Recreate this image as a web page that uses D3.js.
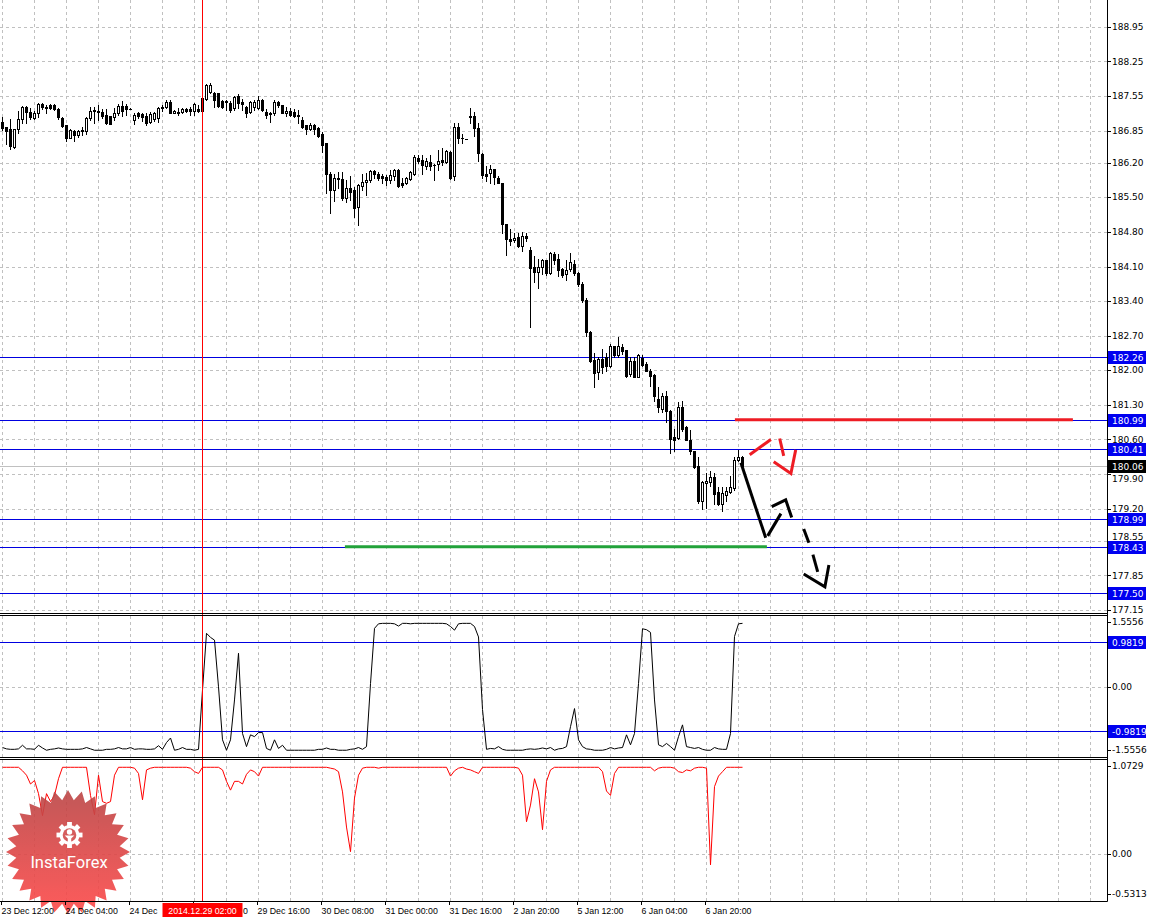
<!DOCTYPE html>
<html><head><meta charset="utf-8">
<script src="https://cdn.jsdelivr.net/npm/d3@7"></script>
<style>body{margin:0;background:#fff}svg{display:block}</style>
</head><body><svg id="c" width="1149" height="919"></svg>
<script>
// ---------- DATA ----------
const open = [187.03,186.93,186.88,186.52,186.88,187.08,187.33,187.23,187.11,187.21,187.39,187.33,187.36,187.37,187.28,187.10,186.96,186.71,186.85,186.76,
186.86,186.85,187.10,187.27,187.25,187.23,187.17,187.15,187.13,187.20,187.35,187.35,187.29,187.07,187.20,187.19,187.15,187.03,187.08,187.10,
187.33,187.32,187.43,187.21,187.23,187.23,187.28,187.28,187.25,187.28,187.25,187.48,187.64,187.62,187.62,187.44,187.44,187.40,187.30,187.54,
187.42,187.33,187.23,187.32,187.30,187.47,187.23,187.20,187.20,187.42,187.37,187.21,187.25,187.23,187.17,187.07,186.96,186.88,186.96,186.90,
186.79,186.60,185.97,185.65,185.90,185.88,185.48,185.69,185.65,185.31,185.72,185.81,185.85,186.03,185.97,185.93,185.92,185.85,185.93,186.06,
185.78,185.78,185.88,185.98,186.29,186.25,186.13,186.22,186.15,186.17,186.25,186.22,186.42,185.93,186.92,186.71,186.67,187.15,187.15,186.90,
186.38,185.98,186.00,186.07,185.90,185.78,184.96,184.65,184.63,184.70,184.51,184.71,184.43,184.09,183.99,184.08,184.23,183.97,184.35,184.26,
184.04,183.94,184.04,184.16,183.97,183.74,183.43,182.77,182.21,181.96,182.23,182.27,182.08,182.50,182.30,182.48,182.41,181.92,182.19,181.87,
182.25,182.13,181.99,181.91,181.42,181.22,181.47,181.18,180.66,180.63,181.25,180.86,180.59,180.37,180.07,179.36,179.71,179.73,179.85,179.53,
179.29,179.48,179.53,179.62,180.19,180.25];
const high = [187.12,186.93,187.08,186.88,187.25,187.35,187.35,187.30,187.25,187.40,187.40,187.36,187.39,187.39,187.30,187.13,186.96,186.88,186.86,186.86,
186.93,187.13,187.33,187.32,187.37,187.28,187.28,187.15,187.30,187.39,187.44,187.39,187.30,187.20,187.23,187.20,187.20,187.23,187.23,187.33,
187.36,187.46,187.46,187.27,187.30,187.31,187.30,187.32,187.40,187.37,187.50,187.79,187.81,187.64,187.62,187.46,187.47,187.44,187.54,187.59,
187.48,187.35,187.44,187.47,187.54,187.48,187.28,187.23,187.46,187.44,187.37,187.33,187.30,187.28,187.27,187.13,186.96,187.00,186.98,186.92,
186.83,186.60,186.02,185.98,186.02,186.02,185.85,185.93,185.71,185.77,185.97,186.00,186.05,186.05,186.02,185.98,185.95,186.05,186.08,186.08,
185.90,185.92,186.04,186.35,186.35,186.35,186.29,186.35,186.17,186.46,186.49,186.46,186.44,187.01,187.00,186.79,186.67,187.30,187.23,187.01,
186.39,186.13,186.15,186.08,185.93,185.78,184.97,184.85,184.78,184.78,184.80,184.78,184.50,184.31,184.26,184.26,184.23,184.39,184.39,184.35,
184.06,184.23,184.37,184.24,183.99,183.79,183.47,182.79,182.35,182.27,182.43,182.35,182.54,182.50,182.68,182.54,182.41,182.27,182.27,182.32,
182.30,182.16,182.03,181.93,181.66,181.55,181.59,181.20,180.81,181.35,181.37,180.88,180.79,180.37,180.24,179.76,179.93,179.97,179.93,179.63,
179.63,179.63,179.87,180.24,180.39,180.27];
const low = [186.86,186.58,186.47,186.49,186.81,187.00,187.01,187.08,187.08,187.12,187.28,187.21,187.28,187.27,187.08,186.93,186.63,186.69,186.63,186.73,
186.76,186.79,187.07,187.01,187.07,187.10,186.98,186.98,187.07,187.17,187.15,187.17,187.28,186.98,187.10,187.05,186.96,187.01,187.05,187.03,
187.25,187.30,187.20,187.20,187.17,187.20,187.23,187.17,187.17,187.23,187.23,187.47,187.62,187.33,187.33,187.30,187.27,187.23,187.27,187.30,
187.27,187.13,187.20,187.27,187.28,187.25,187.10,187.03,187.17,187.33,187.20,187.15,187.15,187.12,187.00,186.90,186.79,186.86,186.79,186.73,
186.42,185.58,185.19,185.43,185.68,185.44,185.41,185.44,185.10,184.94,185.65,185.54,185.81,185.90,185.85,185.79,185.75,185.78,185.85,185.70,
185.71,185.77,185.85,185.95,186.19,185.98,186.08,186.06,185.86,186.05,186.15,186.19,185.88,185.86,186.59,186.59,186.67,187.00,186.74,186.24,
185.90,185.84,185.78,185.77,185.78,184.78,184.33,184.53,184.60,184.50,184.41,184.62,182.87,183.79,183.67,183.95,183.92,183.94,184.16,183.90,
183.89,183.83,184.00,183.92,183.70,183.38,182.70,182.16,181.67,181.83,181.94,181.99,182.06,182.27,182.27,182.32,181.86,181.89,181.86,181.86,
182.08,181.99,181.69,181.37,181.15,181.15,180.95,180.32,180.37,180.61,180.78,180.58,180.30,180.03,179.32,179.19,179.22,179.66,179.29,179.28,
179.16,179.36,179.51,179.58,180.17,180.00];
const close = [186.90,186.85,186.54,186.88,187.08,187.33,187.23,187.12,187.21,187.39,187.33,187.31,187.31,187.28,187.12,186.94,186.69,186.86,186.76,186.85,
186.85,187.10,187.25,187.25,187.23,187.15,187.00,186.98,187.21,187.35,187.25,187.28,187.29,187.17,187.15,187.13,187.00,187.19,187.20,187.31,
187.30,187.42,187.21,187.25,187.20,187.29,187.25,187.25,187.39,187.25,187.50,187.77,187.78,187.46,187.35,187.33,187.42,187.27,187.52,187.40,
187.39,187.20,187.42,187.42,187.46,187.27,187.17,187.19,187.42,187.37,187.21,187.25,187.17,187.15,187.15,186.93,186.88,186.96,186.88,186.74,
186.56,185.98,185.65,185.90,185.88,185.48,185.68,185.61,185.29,185.75,185.81,185.85,186.03,185.98,185.90,185.90,185.85,185.95,186.05,185.72,
185.75,185.90,186.02,186.32,186.24,186.15,186.24,186.13,186.15,186.24,186.22,186.44,185.90,186.92,186.69,186.69,186.67,187.12,186.90,186.39,
185.95,185.93,186.07,185.92,185.79,184.96,184.65,184.62,184.68,184.51,184.71,184.68,184.06,183.99,184.10,184.24,183.97,184.37,184.24,184.02,
183.92,184.02,184.19,183.97,183.75,183.43,182.77,182.18,181.94,182.23,182.06,182.08,182.50,182.30,182.50,182.40,181.89,182.19,181.87,182.30,
182.10,181.99,181.89,181.49,181.26,181.47,181.18,180.61,180.59,181.25,180.81,180.59,180.37,180.05,179.36,179.73,179.76,179.85,179.49,179.29,
179.51,179.56,179.63,180.19,180.24,180.06];
const oscA = [-1.34,-1.37,-1.38,-1.38,-1.37,-1.29,-1.37,-1.37,-1.38,-1.29,-1.35,-1.40,-1.38,-1.37,-1.35,-1.37,-1.38,-1.38,-1.38,-1.38,
-1.37,-1.34,-1.37,-1.40,-1.40,-1.40,-1.38,-1.38,-1.37,-1.34,-1.37,-1.37,-1.34,-1.38,-1.37,-1.37,-1.38,-1.38,-1.37,-1.30,
-1.38,-1.23,-1.13,-1.40,-1.38,-1.34,-1.38,-1.38,-1.40,-1.38,-0.07,1.18,1.09,1.03,0.00,-1.17,-1.40,-1.17,-0.29,0.74,
-1.03,-1.32,-1.06,-1.10,-1.01,-1.01,-1.36,-1.40,-1.17,-1.36,-1.29,-1.40,-1.40,-1.40,-1.40,-1.40,-1.40,-1.40,-1.40,-1.38,
-1.38,-1.35,-1.38,-1.38,-1.40,-1.40,-1.40,-1.38,-1.37,-1.34,-1.38,-1.32,0.07,1.29,1.39,1.40,1.40,1.40,1.39,1.34,
1.40,1.40,1.39,1.40,1.40,1.40,1.40,1.40,1.40,1.40,1.40,1.39,1.33,1.25,1.39,1.40,1.40,1.40,1.33,1.10,
-0.50,-1.38,-1.36,-1.37,-1.32,-1.38,-1.40,-1.40,-1.40,-1.40,-1.40,-1.38,-1.37,-1.38,-1.37,-1.35,-1.37,-1.34,-1.40,-1.37,
-1.36,-1.32,-0.88,-0.48,-1.17,-1.32,-1.37,-1.38,-1.40,-1.40,-1.40,-1.38,-1.34,-1.37,-1.35,-1.34,-1.06,-1.28,-1.03,0.07,
1.28,1.26,1.20,-0.29,-1.28,-1.32,-1.25,-1.32,-1.40,-1.10,-0.84,-1.32,-1.34,-1.36,-1.34,-1.38,-1.40,-1.40,-1.34,-1.37,
-1.38,-1.38,-1.03,1.11,1.39,1.40];
const oscB = [0.99,0.99,0.99,0.99,0.99,0.95,0.90,0.80,0.84,0.69,0.44,0.69,0.60,0.67,0.86,0.99,0.99,0.99,0.99,0.99,
0.99,0.99,0.67,0.45,0.90,0.60,0.58,0.60,0.90,0.99,0.99,0.99,0.99,0.98,0.92,0.62,0.96,0.98,0.99,0.99,
0.99,0.99,0.99,0.99,0.99,0.99,0.99,0.98,0.94,0.92,0.99,0.99,0.99,0.99,0.99,0.96,0.83,0.73,0.83,0.83,
0.80,0.91,0.96,0.94,0.89,0.99,0.99,0.99,0.99,0.99,0.99,0.99,0.99,0.99,0.99,0.99,0.99,0.99,0.99,0.99,
0.99,0.99,0.98,0.97,0.94,0.71,0.31,0.03,0.64,0.90,0.98,0.99,0.99,0.99,0.98,0.99,0.99,0.99,0.99,0.99,
0.99,0.99,0.99,0.99,0.99,0.99,0.99,0.99,0.99,0.99,0.99,0.99,0.89,0.95,0.98,0.99,0.97,0.96,0.94,0.92,
0.99,0.99,0.99,0.99,0.99,0.99,0.99,0.99,0.99,0.98,0.90,0.37,0.56,0.86,0.71,0.28,0.83,0.96,0.99,0.99,
0.99,0.99,0.99,0.99,0.99,0.99,0.99,0.99,0.99,0.99,0.94,0.72,0.67,0.92,0.99,0.99,0.99,0.99,0.99,0.99,
0.99,0.99,0.99,0.95,0.98,0.99,0.99,0.99,0.98,0.94,0.93,0.96,0.95,0.98,0.99,0.99,0.98,-0.12,0.77,0.89,
0.94,0.99,0.99,0.99,0.99,0.99];
const priceTicks = [188.95,188.25,187.55,186.85,186.20,185.50,184.80,184.10,183.40,182.70,182.00,181.30,180.60,179.90,179.20,178.55,177.85,177.15];
const priceLevels = [182.26,180.99,180.41,178.99,178.43,177.50];
const currentPrice = 180.06;
const oscALevels = [0.9819,-0.9819];
const oscBTicks = [1.0729,0.00,-0.5313];
// labels partly hidden by the marker box are shown as their visible parts
const timeLabels = ["23 Dec 12:00","24 Dec 04:00","24 Dec","0","29 Dec 16:00","30 Dec 08:00","31 Dec 00:00","31 Dec 16:00","2 Jan 20:00","5 Jan 12:00","6 Jan 04:00","6 Jan 20:00"];
const timeLabelBars = [0,16,32,48,64,80,96,112,128,144,160,176];
const markerBar = 50, markerLabel = "2014.12.29 02:00";
// drawn objects: [bar, price]
const redLevelSeg = [[183.1,181.00],[267.6,181.00]];
const greenLevelSeg = [[85.6,178.43],[191.1,178.43]];
const blackArrow = [
  [[184.6,180.13],[190.8,178.61]],
  [[191.3,178.65],[194.6,179.10]],
  [[192.3,179.24],[195.8,179.38],[197.3,179.02]],
  [[200.3,178.79],[201.6,178.51]],
  [[202.6,178.27],[203.8,177.92]],
  [[200.3,177.88],[205.6,177.62],[206.6,178.06]]
];
const redArrow = [
  [[186.8,180.29],[192.1,180.60]],
  [[194.3,180.62],[195.3,180.27]],
  [[192.8,180.15],[197.1,179.91],[198.3,180.39]]
];

// ---------- CHART ----------
const svg = d3.select('#c');
const W = 1107;
const N = open.length;
const x = d3.scaleLinear().domain([0,1]).range([2.5,6.5]);
const yP = d3.scaleLinear().domain([177.15,188.95]).range([610,26.8]);
const yA = d3.scaleLinear().domain([-1.5556,1.5556]).range([757.3,616.3]);
const yB = d3.scaleLinear().domain([-0.5313,1.0729]).range([901,760]);
const sn = v => Math.round(v)+0.5;
const GRID = '#c0c0c0';

// grid
const g0 = svg.append('g').attr('stroke',GRID).attr('stroke-dasharray','3,3').attr('fill','none');
d3.range(0,276,8).forEach(b=>{
  [[0,612],[616,757],[760,901]].forEach(([a,c])=>g0.append('line').attr('x1',x(b)).attr('x2',x(b)).attr('y1',a).attr('y2',c));
});
priceTicks.forEach(p=>g0.append('line').attr('x1',0).attr('x2',W).attr('y1',sn(yP(p))).attr('y2',sn(yP(p))));
g0.append('line').attr('x1',0).attr('x2',W).attr('y1',sn(yA(0))).attr('y2',sn(yA(0)));
g0.append('line').attr('x1',0).attr('x2',W).attr('y1',sn(yB(0))).attr('y2',sn(yB(0)));

// levels
const gl = svg.append('g');
priceLevels.forEach(p=>gl.append('line').attr('x1',0).attr('x2',W).attr('y1',sn(yP(p))).attr('y2',sn(yP(p))).attr('stroke','#0000e0'));
gl.append('line').attr('x1',0).attr('x2',W).attr('y1',sn(yP(currentPrice))).attr('y2',sn(yP(currentPrice))).attr('stroke','#c0c0c0');
oscALevels.forEach(v=>gl.append('line').attr('x1',0).attr('x2',W).attr('y1',sn(yA(v))).attr('y2',sn(yA(v))).attr('stroke','#0000e0'));

// candles
const gc = svg.append('g');
d3.range(N).forEach(i=>{
  const cx = x(i);
  const yH = Math.round(yP(high[i])), yL = Math.round(yP(low[i]));
  const yO = Math.round(yP(open[i])), yC = Math.round(yP(close[i]));
  const top = Math.min(yO,yC), bot = Math.max(yO,yC);
  gc.append('line').attr('x1',cx).attr('x2',cx).attr('y1',yH).attr('y2',yL+1).attr('stroke','#000');
  if (close[i] > open[i]) {
    gc.append('rect').attr('x',cx-1).attr('y',top+0.5).attr('width',2).attr('height',Math.max(bot-top,1)).attr('fill','#fff').attr('stroke','#000');
  } else if (close[i] < open[i]) {
    gc.append('rect').attr('x',cx-1.5).attr('y',top).attr('width',3).attr('height',bot-top+1).attr('fill','#000');
  } else {
    gc.append('line').attr('x1',cx-1.5).attr('x2',cx+1.5).attr('y1',top+0.5).attr('y2',top+0.5).attr('stroke','#000');
  }
});

// oscillators
svg.append('path').datum(oscA).attr('fill','none').attr('stroke','#000').attr('stroke-width',1)
  .attr('d',d3.line().x((d,i)=>x(i)).y(d=>yA(d)));
svg.append('path').datum(oscB).attr('fill','none').attr('stroke','#ff0000').attr('stroke-width',1)
  .attr('d',d3.line().x((d,i)=>x(i)).y(d=>yB(d)));

// drawn objects
const lp = d3.line().x(d=>x(d[0])).y(d=>yP(d[1]));
svg.append('path').datum(greenLevelSeg).attr('d',lp).attr('stroke','#22a23a').attr('stroke-width',3).attr('fill','none');
svg.append('path').datum(redLevelSeg).attr('d',lp).attr('stroke','#ee1c24').attr('stroke-width',3).attr('fill','none');
blackArrow.forEach(s=>svg.append('path').datum(s).attr('d',lp).attr('stroke','#000').attr('stroke-width',3).attr('fill','none'));
redArrow.forEach(s=>svg.append('path').datum(s).attr('d',lp).attr('stroke','#ee1c24').attr('stroke-width',3).attr('fill','none'));

// vertical marker
svg.append('line').attr('x1',x(markerBar)).attr('x2',x(markerBar)).attr('y1',0).attr('y2',901).attr('stroke','#ff0000');

// logo
const defs = svg.append('defs');
const gr = defs.append('linearGradient').attr('id','lg').attr('x1',0).attr('y1',0).attr('x2',0).attr('y2',1);
gr.append('stop').attr('offset','0%').attr('stop-color','#bb4646');
gr.append('stop').attr('offset','100%').attr('stop-color','#ff4a4a');
const lg = svg.append('g').attr('opacity',0.9);
const Lx=68, Ly=852, R=62, r=52, n=28;
const star = d3.range(2*n).map(k=>{const a=k*Math.PI/n-Math.PI/2; const rr=k%2?r:R; return [Lx+rr*Math.cos(a), Ly+rr*Math.sin(a)];});
lg.append('path').attr('d','M'+star.map(p=>p.join(',')).join('L')+'Z').attr('fill','url(#lg)');
const gx=69.5, gy=835;
const gear = lg.append('g').attr('fill','#fff');
d3.range(8).forEach(k=>gear.append('rect').attr('x',gx-2.4).attr('y',gy-13).attr('width',4.8).attr('height',5).attr('transform',`rotate(${k*45},${gx},${gy})`));
gear.append('circle').attr('cx',gx).attr('cy',gy).attr('r',10);
lg.append('circle').attr('cx',gx).attr('cy',gy).attr('r',6.8).attr('fill','#d24c4c');
lg.append('circle').attr('cx',gx).attr('cy',gy-3).attr('r',2.7).attr('fill','#fff');
lg.append('path').attr('d',`M${gx-4.8},${gy+0.5} L${gx+4.8},${gy+0.5} L${gx+1.7},${gy+3.5} L${gx+1.7},${gy+12.5} L${gx-1.7},${gy+12.5} L${gx-1.7},${gy+3.5} Z`).attr('fill','#fff');
lg.append('text').attr('x',69).attr('y',868).attr('text-anchor','middle').attr('fill','#fff')
  .attr('font-family','Roboto, "Open Sans", sans-serif').attr('font-size',16.5).text('InstaForex');

// frames
const fr = svg.append('g').attr('stroke','#000');
[613.5,615.5,757.5,759.5,901.5].forEach(y=>fr.append('line').attr('x1',0).attr('x2',W+0.5).attr('y1',y).attr('y2',y));
fr.append('line').attr('x1',W+0.5).attr('x2',W+0.5).attr('y1',0).attr('y2',901.5);

// right axis labels
const ax = svg.append('g').attr('font-family','"DejaVu Sans", sans-serif').attr('font-size',9);
function tickLabel(y, t, shift){
  ax.append('line').attr('x1',W).attr('x2',W+4).attr('y1',sn(y)).attr('y2',sn(y)).attr('stroke','#000');
  ax.append('text').attr('x',1112).attr('y',y+(shift||0)).attr('dy','0.35em').attr('fill','#000').text(t);
}
// labels crowded by the level boxes are nudged clear of them
const nudge = {"179.90":4.5, "178.55":-4};
priceTicks.forEach(p=>tickLabel(yP(p), p.toFixed(2), nudge[p.toFixed(2)]));
tickLabel(yA(1.5556)+6, '1.5556');
tickLabel(yA(0), '0.00');
tickLabel(yA(-1.5556)-7, '-1.5556');
tickLabel(yB(oscBTicks[0])+6, oscBTicks[0].toFixed(4));
tickLabel(yB(oscBTicks[1]), '0.00');
tickLabel(yB(oscBTicks[2])-7, oscBTicks[2].toFixed(4));
function boxLabel(y, t, col){
  const yy = Math.round(y);
  ax.append('rect').attr('x',1108).attr('y',yy-6).attr('width',38).attr('height',13).attr('fill',col);
  ax.append('text').attr('x',1112).attr('y',yy+0.5).attr('dy','0.35em').attr('fill','#fff').text(t);
}
priceLevels.forEach(p=>boxLabel(yP(p), p.toFixed(2), '#0000f0'));
boxLabel(yP(currentPrice), currentPrice.toFixed(2), '#000');
oscALevels.forEach(v=>boxLabel(yA(v), v.toFixed(4), '#0000f0'));

// time axis
const tx = svg.append('g').attr('font-family','"Liberation Sans", Arial, sans-serif').attr('font-size',8.8);
timeLabelBars.forEach((b,k)=>{
  const lx = timeLabels[k] === '0' ? x(markerBar)+40.5 : x(b)-1;
  tx.append('line').attr('x1',x(b)-1).attr('x2',x(b)-1).attr('y1',901).attr('y2',905).attr('stroke','#000');
  tx.append('text').attr('x',lx).attr('y',913.5).attr('fill','#000').text(timeLabels[k]);
});
tx.append('rect').attr('x',x(markerBar)-40).attr('y',903).attr('width',80).attr('height',14).attr('fill','#ff0000');
tx.append('text').attr('x',x(markerBar)).attr('y',913.5).attr('text-anchor','middle').attr('fill','#fff').text(markerLabel);
</script></body></html>
